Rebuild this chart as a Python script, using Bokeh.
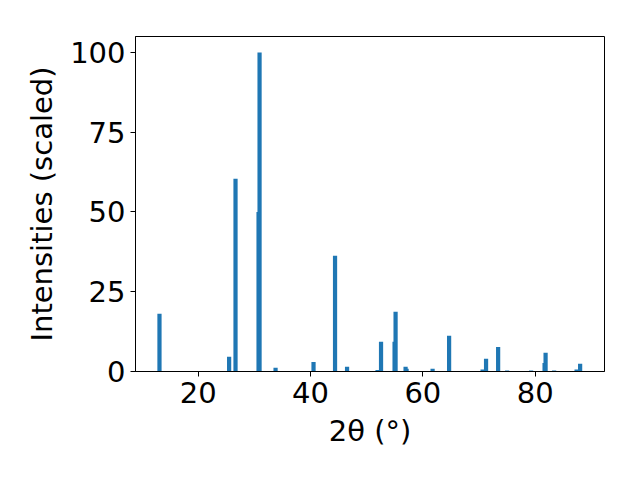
from bokeh.plotting import figure
from bokeh.models import Range1d, FixedTicker, ColumnDataSource
from bokeh.embed import file_html
from bokeh.resources import INLINE

two_theta = [13.1, 25.5, 26.64, 30.74, 30.92, 33.77, 40.53, 44.36, 46.5, 51.93,
             52.55, 54.96, 55.14, 56.92, 57.1, 61.73, 64.67, 70.63, 71.25, 73.4,
             75.0, 79.27, 81.67, 81.85, 83.37, 87.37, 88.0]
intensity = [18.1, 4.6, 60.4, 50.0, 100.0, 1.2, 3.0, 36.3, 1.5, 0.5,
             9.3, 9.3, 18.7, 1.5, 0.9, 0.9, 11.2, 0.6, 4.0, 7.7,
             0.3, 0.3, 2.7, 5.9, 0.3, 0.6, 2.4]
x_ticks = [20, 40, 60, 80]
y_ticks = [0, 25, 50, 75, 100]

src = ColumnDataSource(dict(x=two_theta, top=intensity))

p = figure(width=624, height=464, output_backend="svg", toolbar_location=None,
           x_range=Range1d(8.83, 92.34), y_range=Range1d(0, 105),
           min_border_left=135, min_border_right=20, min_border_top=36,
           min_border_bottom=93)
p.vbar(x="x", top="top", bottom=0, width=0.75, source=src,
       fill_color="#1f77b4", line_color=None)

p.xgrid.visible = False
p.ygrid.visible = False
p.outline_line_color = "black"
p.outline_line_width = 1
p.background_fill_color = "white"
p.border_fill_color = "white"

p.xaxis.ticker = FixedTicker(ticks=x_ticks)
p.yaxis.ticker = FixedTicker(ticks=y_ticks)
p.xaxis.axis_label = "2θ (°)"
p.yaxis.axis_label = "Intensities (scaled)"

for ax in (p.xaxis, p.yaxis):
    ax.major_label_text_font = "DejaVu Sans"
    ax.major_label_text_font_size = "29px"
    ax.major_label_text_color = "black"
    ax.axis_label_text_font = "DejaVu Sans"
    ax.axis_label_text_font_size = "29px"
    ax.axis_label_text_font_style = "normal"
    ax.axis_label_text_color = "black"
    ax.major_tick_out = 5
    ax.major_tick_in = 0
    ax.minor_tick_out = 0
    ax.minor_tick_in = 0
    ax.major_tick_line_color = "black"
    ax.axis_line_color = "black"
    ax.major_label_standoff = 5
    ax.axis_label_standoff = 8

open("out.html", "w").write(file_html(p, INLINE))
